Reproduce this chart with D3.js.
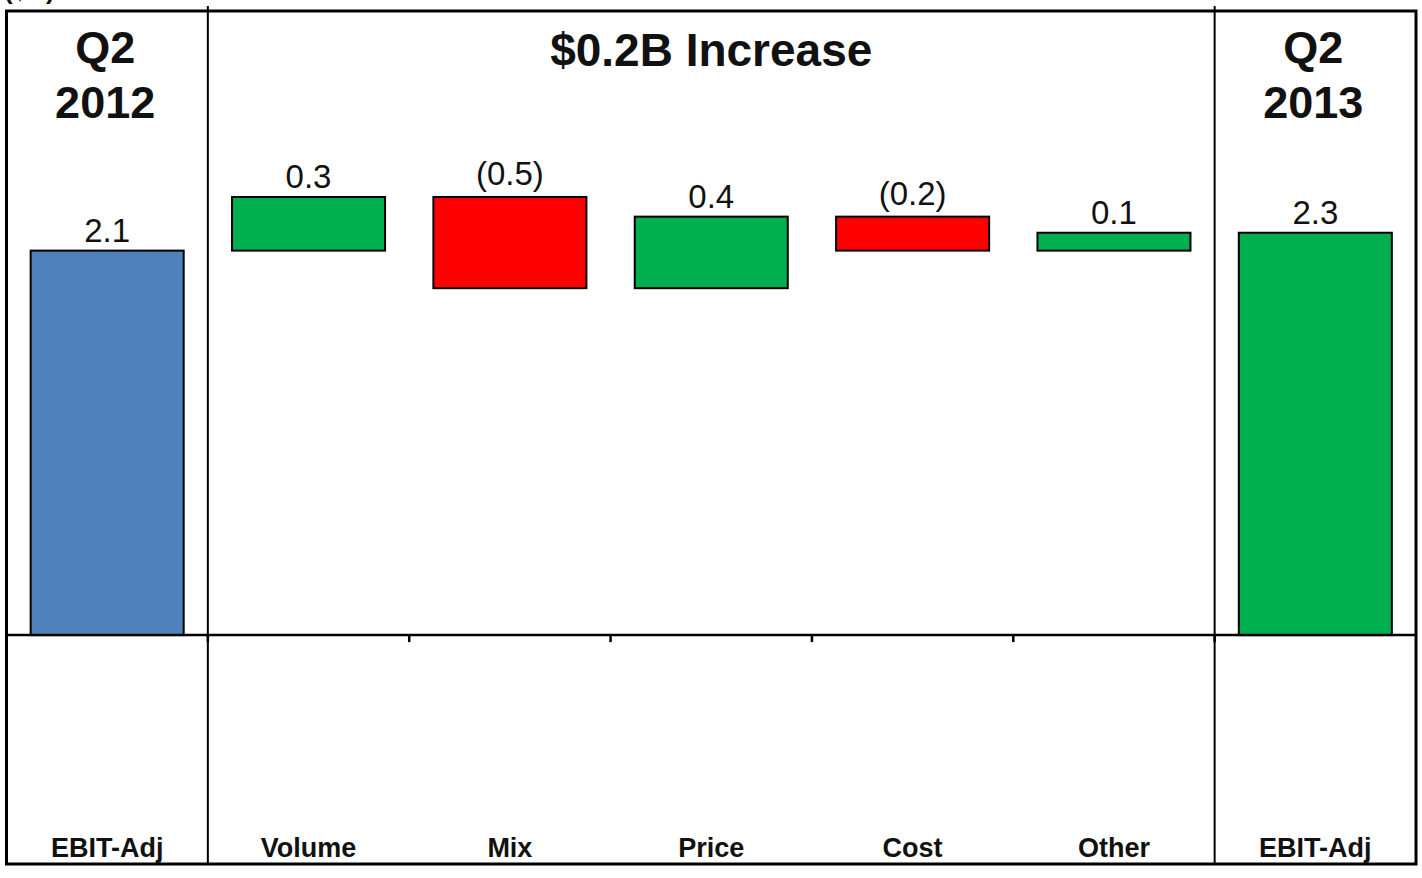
<!DOCTYPE html>
<html>
<head>
<meta charset="utf-8">
<script src="https://cdn.jsdelivr.net/npm/d3@7"></script>
<style>
  html, body { margin: 0; padding: 0; background: #fff; }
  svg { display: block; font-family: "Liberation Sans", Arial, sans-serif; }
</style>
</head>
<body>
<svg id="chart" width="1422" height="878"></svg>
<script>
// ---- data ----
const categories = ["EBIT-Adj 2012", "Volume", "Mix", "Price", "Cost", "Other", "EBIT-Adj 2013"];
const axisLabels = ["EBIT-Adj", "Volume", "Mix", "Price", "Cost", "Other", "EBIT-Adj"];
const startValue = 2.15;
const deltas = [0.30, -0.51, 0.40, -0.19, 0.10];
const endValue = 2.25;
const valueLabels = ["2.1", "0.3", "(0.5)", "0.4", "(0.2)", "0.1", "2.3"];
const periodTitles = [["Q2", "2012"], ["Q2", "2013"]];
const middleTitle = "$0.2B Increase";
const unitNote = "($B)";

// ---- build waterfall segments ----
const segs = [];
segs.push({ cat: categories[0], y0: 0, y1: startValue, kind: "start" });
let run = startValue;
deltas.forEach((d, i) => {
  segs.push({ cat: categories[i + 1], y0: run, y1: run + d, kind: d >= 0 ? "up" : "down" });
  run += d;
});
segs.push({ cat: categories[6], y0: 0, y1: endValue, kind: "end" });

const colors = { start: "#4F81BD", up: "#00B050", down: "#FF0000", end: "#00B050" };

// ---- layout ----
const frame = { left: 6.5, right: 1416, top: 11, bottom: 864 };
const svg = d3.select("#chart");

const x = d3.scaleBand()
  .domain(categories)
  .range([frame.left, frame.right])
  .paddingInner(0.24)
  .paddingOuter(0.12);

const y = d3.scaleLinear()
  .domain([-1.28, 3.49])
  .range([frame.bottom, frame.top]);

const step = x.step();
const boundary = c => x(c) - step * 0.12;   // left edge of a category's slot

// bars
svg.append("g").selectAll("rect")
  .data(segs)
  .join("rect")
  .attr("x", d => x(d.cat))
  .attr("width", x.bandwidth())
  .attr("y", d => y(Math.max(d.y0, d.y1)))
  .attr("height", d => Math.abs(y(d.y0) - y(d.y1)))
  .attr("fill", d => colors[d.kind])
  .attr("stroke", "#000")
  .attr("stroke-width", 2);

// value labels
svg.append("g").selectAll("text")
  .data(segs)
  .join("text")
  .attr("x", d => x(d.cat) + x.bandwidth() / 2)
  .attr("y", (d, i) => y(Math.max(d.y0, d.y1)) - (valueLabels[i].startsWith("(") ? 12 : 9))
  .attr("text-anchor", "middle")
  .attr("font-size", 33)
  .attr("fill", "#111")
  .text((d, i) => valueLabels[i]);

// zero baseline with ticks at slot boundaries
const axisG = svg.append("g").attr("transform", `translate(0,${y(0)})`);
axisG.append("line")
  .attr("x1", frame.left).attr("x2", frame.right)
  .attr("y1", 0).attr("y2", 0)
  .attr("stroke", "#000").attr("stroke-width", 2.5);
axisG.selectAll("line.tick")
  .data(categories.slice(1))
  .join("line")
  .attr("class", "tick")
  .attr("x1", d => boundary(d)).attr("x2", d => boundary(d))
  .attr("y1", 0).attr("y2", 7)
  .attr("stroke", "#000").attr("stroke-width", 2.5);

// panel dividers
const dividers = [boundary(categories[1]), boundary(categories[6])];
svg.append("g").selectAll("line")
  .data(dividers)
  .join("line")
  .attr("x1", d => d).attr("x2", d => d)
  .attr("y1", frame.top - 5).attr("y2", frame.bottom)
  .attr("stroke", "#000").attr("stroke-width", 2);

// outer frame
svg.append("rect")
  .attr("x", frame.left).attr("y", frame.top)
  .attr("width", frame.right - frame.left)
  .attr("height", frame.bottom - frame.top)
  .attr("fill", "none").attr("stroke", "#000").attr("stroke-width", 3);

// category labels
svg.append("g").selectAll("text")
  .data(categories)
  .join("text")
  .attr("x", d => x(d) + x.bandwidth() / 2)
  .attr("y", 857)
  .attr("text-anchor", "middle")
  .attr("font-size", 27)
  .attr("font-weight", "bold")
  .attr("fill", "#111")
  .text((d, i) => axisLabels[i]);

// period titles
const periodCats = [categories[0], categories[6]];
periodCats.forEach((c, i) => {
  const cx = x(c) + x.bandwidth() / 2;
  const t = svg.append("text")
    .attr("text-anchor", "middle")
    .attr("font-size", 45)
    .attr("font-weight", "bold")
    .attr("fill", "#111");
  t.append("tspan").attr("x", cx - 2).attr("y", 63).text(periodTitles[i][0]);
  t.append("tspan").attr("x", cx - 2).attr("y", 118).text(periodTitles[i][1]);
});

// middle title
const midX = (dividers[0] + dividers[1]) / 2;
svg.append("text")
  .attr("x", midX).attr("y", 66)
  .attr("text-anchor", "middle")
  .attr("font-size", 46)
  .attr("font-weight", "bold")
  .attr("fill", "#111")
  .text(middleTitle);

// unit note, cropped at the very top as in the source image
svg.append("text")
  .attr("x", 4).attr("y", -1)
  .attr("font-size", 26)
  .attr("font-weight", "bold")
  .attr("fill", "#111")
  .text(unitNote);
</script>
</body>
</html>
